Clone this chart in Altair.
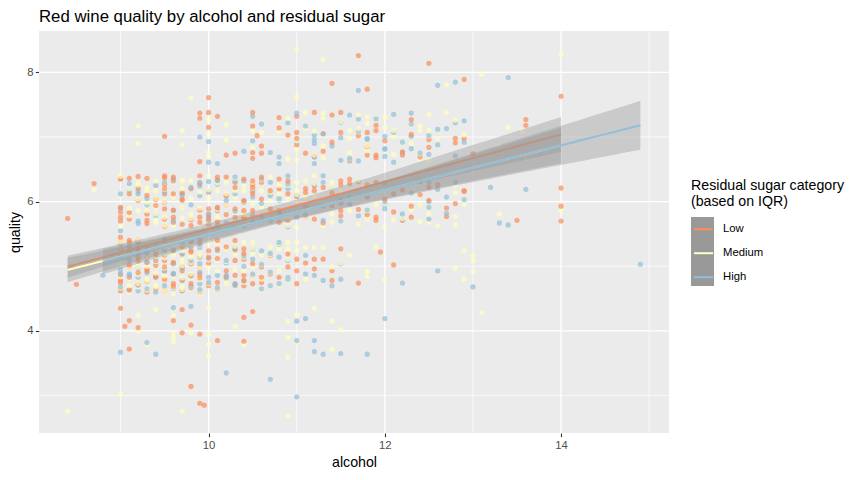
import altair as alt
import numpy as np
import pandas as pd

categories = ["Low", "Medium", "High"]
category_codes = ["L", "M", "H"]
point_colors = ["#FC8D59", "#FFFFBF", "#91BFDB"]

# alcohol value -> jittered quality values (sparse / visible points)
low_points = {
    8.4: [5.74], 8.5: [4.72], 8.7: [6.28],
    9.0: [6.36, 6.35, 5.91, 5.84, 5.76, 5.70, 5.45, 5.38, 5.27, 5.19, 4.87, 4.78, 4.75, 4.62, 4.35],
    9.05: [4.07],
    9.1: [6.36, 6.12, 5.73, 5.40, 5.24, 4.99, 4.16, 3.72],
    9.2: [6.39, 6.02, 5.37, 5.27, 5.14, 4.05, 4.72],
    9.3: [6.36, 5.81, 5.71, 5.06, 4.93, 6.10],
    9.4: [6.04, 5.24, 5.09, 4.83, 5.94],
    9.5: [7.01, 6.40, 6.27, 6.20, 6.12, 5.89, 5.73, 5.40, 5.09, 4.93, 4.78, 5.99, 5.62],
    9.6: [6.38, 6.32, 6.12, 5.76, 5.68, 5.04, 4.73, 4.16],
    9.7: [6.04, 6.02, 5.65, 4.93, 4.33, 3.97, 5.30],
    9.8: [6.20, 5.63, 5.24, 5.04, 4.73, 4.09, 3.14],
    9.9: [7.37, 7.29, 6.62, 6.40, 5.87, 5.76, 5.68, 5.42, 4.88, 3.95, 2.88],
    9.95: [2.85],
    10.0: [7.61, 7.38, 7.15, 5.89, 5.76, 5.71, 5.65, 5.24, 5.14, 4.73],
    10.1: [7.32, 6.38, 5.91, 5.86, 5.40, 5.27, 4.75, 3.85],
    10.2: [6.72, 6.38, 4.93, 5.80],
    10.3: [6.75, 5.89, 5.76, 5.40, 5.27, 4.86, 6.30],
    10.4: [5.99, 5.86, 5.76, 5.27, 5.11, 4.86, 4.70, 4.21, 3.84, 6.35],
    10.5: [7.38, 7.17, 6.76, 6.67, 6.32, 6.27, 6.22, 6.17, 6.12, 5.86, 5.76, 5.04, 4.86, 4.73, 4.30],
    10.55: [7.02],
    10.6: [6.86, 6.75, 6.38, 6.30, 6.04, 4.99, 4.83, 4.75],
    10.7: [6.17, 5.89, 5.17, 4.88],
    10.8: [7.30, 7.14, 6.35, 6.20, 5.86, 5.68, 4.83],
    10.9: [7.03, 6.32, 6.12, 5.71, 5.19, 4.99],
    11.0: [7.32, 7.07, 6.98, 5.11, 4.93, 4.73, 6.10],
    11.1: [6.75, 6.14, 5.76, 5.05],
    11.2: [7.38, 6.17, 5.73, 5.11, 4.96],
    11.3: [6.78, 6.22, 5.11],
    11.4: [7.83, 7.34, 5.94, 4.93, 4.78],
    11.5: [7.38, 7.07, 6.32, 5.86, 5.78, 5.27],
    11.6: [6.28],
    11.7: [8.26, 6.31, 4.74],
    11.8: [7.74, 7.07, 6.72, 6.26, 5.80],
    11.9: [7.10, 6.72, 6.68, 6.30, 5.76],
    11.95: [5.22],
    12.0: [6.04], 12.1: [5.02], 12.2: [6.72, 5.71], 12.3: [7.27, 5.76], 12.4: [6.11],
    12.5: [8.14, 6.96, 6.84], 12.6: [6.26], 12.7: [5.90, 5.77], 12.8: [6.98, 6.91, 5.97],
    12.9: [7.89, 6.98, 6.17, 6.16], 13.0: [6.74], 13.5: [5.71], 13.6: [7.27, 7.18],
    14.0: [7.63, 6.21, 5.93, 5.70],
}

# points hidden in the dense, overlapping part of the cloud (estimated)
low_dense = {
    9.1: [4.64, 4.83, 5.02, 5.21, 5.37, 5.83], 9.2: [4.71, 4.90, 5.08, 5.27, 5.41, 6.21],
    9.3: [4.60, 4.77, 4.96, 5.14, 5.33, 5.66], 9.4: [4.66, 4.85, 5.01, 5.18, 5.39, 6.04],
    9.5: [4.62, 4.80, 4.99, 5.17, 5.35, 6.37], 9.6: [4.69, 4.88, 5.06, 5.24, 5.40, 5.87],
    9.7: [4.63, 4.79, 5.00, 5.19, 5.36, 6.14], 9.8: [4.67, 4.86, 5.04, 5.22, 5.38, 5.72],
    9.9: [4.61, 4.82, 4.98, 5.16, 5.34, 6.28],
    10.0: [4.70, 5.05, 5.80, 6.15], 10.1: [4.65, 5.12, 5.69, 6.33], 10.2: [4.84, 5.30, 5.95, 6.10],
    10.3: [4.72, 5.09, 5.62, 6.22], 10.4: [4.78, 5.20, 5.74, 6.02],
    11.0: [6.08, 6.88], 11.1: [5.92, 6.20], 11.2: [6.24, 6.71], 11.3: [5.67, 7.05],
    11.4: [6.13, 6.92], 11.5: [5.98, 6.26], 11.6: [6.35, 6.65], 11.7: [5.88, 7.02],
    11.8: [6.07, 6.85], 11.9: [5.71, 7.18], 12.0: [6.29, 6.94], 12.1: [5.84, 6.12],
    12.2: [6.18, 6.77], 12.3: [5.93, 7.04], 12.4: [6.31, 6.69], 12.5: [6.02, 6.22],
}

medium_points = {
    8.4: [2.76], 8.7: [6.18],
    9.0: [6.39, 5.62, 5.30, 3.02],
    9.1: [6.20, 5.17, 4.70, 4.60, 5.90],
    9.2: [7.17, 6.90, 6.04, 5.86, 4.99, 4.73, 4.24, 4.00, 6.30],
    9.3: [6.22, 6.17, 5.94, 5.86, 5.37, 5.19, 4.78, 4.65, 3.79],
    9.4: [6.32, 6.17, 5.91, 5.81, 5.71, 5.40, 4.99, 4.68, 4.33, 5.15, 6.05],
    9.5: [6.30, 6.00, 5.76, 5.63, 5.19, 4.62, 5.30, 4.85],
    9.6: [6.07, 5.63, 5.35, 5.17, 4.57, 4.24, 3.97, 3.90, 3.83, 6.30],
    9.7: [7.10, 6.88, 6.32, 6.20, 5.91, 5.37, 5.24, 5.09, 4.68, 2.76, 5.75],
    9.8: [7.60, 6.32, 5.81, 5.14, 4.83, 3.97, 6.05, 5.35],
    9.9: [6.15, 5.60, 5.19, 4.62, 5.90],
    10.0: [7.27, 7.05, 6.76, 6.70, 6.40, 5.37, 4.99, 4.35, 3.95, 3.79, 3.62, 6.05],
    10.1: [6.17, 5.76, 5.09, 4.93, 5.35],
    10.2: [7.19, 6.95, 6.30, 5.27, 4.73, 5.95],
    10.3: [6.17, 6.07, 5.65, 5.19, 4.07, 4.95],
    10.4: [6.25, 6.17, 5.37, 4.93, 3.79, 5.80],
    10.5: [7.09, 6.84, 5.96, 5.37, 5.19, 4.99, 6.30],
    10.6: [7.07, 6.17, 5.91, 5.17, 4.80],
    10.7: [6.38, 6.02, 5.30, 4.70],
    10.8: [7.09, 6.25, 6.12, 5.27, 4.93],
    10.9: [7.29, 6.66, 6.27, 6.04, 5.76, 5.37, 5.27, 4.83, 4.15, 3.90, 3.59, 2.68],
    11.0: [8.36, 7.62, 6.81, 6.64, 6.30, 6.17, 5.60, 5.37, 5.24, 4.25, 3.82],
    11.1: [7.38, 7.14, 6.32, 6.07, 5.29, 4.80],
    11.2: [7.09, 6.40, 6.07, 5.29, 4.35],
    11.3: [8.20, 7.37, 7.29, 6.86, 6.68, 5.99, 5.63, 5.29],
    11.4: [6.30, 6.12, 5.81, 5.68, 4.99, 4.15, 3.72],
    11.5: [6.14, 4.02, 5.05],
    11.6: [7.10, 6.98, 6.76, 5.86, 5.17],
    11.7: [7.34, 7.13, 5.65],
    11.8: [7.31, 7.21, 6.86, 6.79, 5.73, 4.92, 4.84],
    11.9: [5.95, 5.30], 12.0: [7.31, 7.15, 5.61, 4.79], 12.1: [7.10, 7.01, 6.73, 5.72],
    12.3: [6.90, 5.88], 12.4: [7.17, 7.10, 6.66, 5.95, 5.69], 12.5: [7.35, 7.10, 6.64, 5.81, 5.68],
    12.6: [6.98, 5.63], 12.7: [7.81, 7.38], 12.8: [7.26, 6.26, 6.14, 5.77, 5.64, 4.97],
    12.9: [7.03, 6.02, 5.96, 5.24, 4.80], 13.0: [5.17, 5.09, 4.92], 13.1: [7.97, 4.28],
    13.3: [6.86, 5.81], 13.4: [7.15], 13.56: [7.09], 13.6: [6.67], 14.0: [8.29, 5.87],
}

medium_dense = {
    9.0: [4.66, 4.84, 5.03, 5.20, 5.38, 6.10], 9.1: [4.62, 4.81, 4.99, 5.23, 5.36, 5.78],
    9.2: [4.68, 4.87, 5.06, 5.25, 5.41, 6.26], 9.3: [4.63, 4.80, 5.00, 5.15, 5.32, 5.99],
    9.4: [4.70, 4.89, 5.07, 5.26, 5.39, 5.68], 9.5: [4.61, 4.78, 4.97, 5.13, 5.35, 6.19],
    9.6: [4.67, 4.85, 5.04, 5.22, 5.40, 5.85], 9.7: [4.64, 4.82, 5.01, 5.18, 5.34, 6.33],
    9.8: [4.69, 4.88, 5.05, 5.21, 5.37, 5.74], 9.9: [4.60, 4.79, 4.98, 5.16, 5.33, 6.08],
    10.0: [4.73, 5.10, 5.70, 6.18], 10.1: [4.66, 5.22, 5.88, 6.29], 10.2: [4.81, 5.07, 5.64, 6.12],
    10.3: [4.69, 5.31, 5.83, 6.36], 10.4: [4.75, 5.14, 5.66, 6.00], 10.5: [4.86, 5.28, 5.76, 6.21],
    10.6: [4.64, 5.02, 5.95, 6.34], 10.7: [4.90, 5.18, 5.69, 6.14], 10.8: [4.71, 5.35, 5.81, 6.03],
    10.9: [4.79, 5.11, 5.63, 6.25],
    11.0: [6.11, 6.94], 11.1: [5.76, 7.16], 11.2: [6.28, 6.72], 11.3: [5.91, 7.03],
    11.4: [6.22, 6.87], 11.5: [5.69, 7.24], 11.6: [6.04, 6.66], 11.7: [6.33, 7.08],
    11.8: [5.86, 6.95], 11.9: [6.17, 7.27], 12.0: [5.97, 6.80], 12.1: [6.26, 7.06],
    12.2: [5.74, 6.91], 12.3: [6.12, 7.19], 12.4: [6.37, 6.74], 12.5: [5.90, 7.01],
}

high_points = {
    8.8: [4.86],
    9.0: [6.12, 4.89, 3.67, 5.55], 9.1: [6.28, 4.88], 9.2: [6.16, 6.12, 4.83, 4.62, 5.70],
    9.3: [3.82, 5.95, 5.20], 9.4: [3.64, 6.25, 5.05], 9.5: [6.15, 5.25],
    9.6: [5.86, 4.88, 4.36, 6.35], 9.7: [4.78, 6.10], 9.8: [5.40, 4.38, 6.22],
    9.9: [7.00, 6.30, 6.09, 5.29, 5.04, 4.73], 10.0: [6.93, 6.61, 6.31, 5.81, 4.83],
    10.1: [6.59, 6.27, 5.63, 4.86], 10.2: [6.02, 5.09, 4.86, 3.35], 10.3: [6.32, 6.12, 4.73, 5.25],
    10.4: [6.78, 6.32, 5.65, 5.00], 10.5: [7.32, 6.94, 6.07, 5.68, 5.11], 10.6: [7.20, 5.78, 5.24],
    10.7: [6.76, 6.30, 6.09, 4.70, 3.25], 10.8: [6.69, 6.59, 6.02, 5.37, 5.14],
    10.9: [7.22, 6.40, 6.20, 4.83], 11.0: [7.37, 5.76, 4.15, 3.85, 2.98], 11.1: [5.17, 4.88, 4.19],
    11.2: [7.03, 6.96, 6.90, 6.69, 6.59, 4.86, 3.85, 3.68], 11.3: [6.40, 6.30, 5.71, 4.78, 3.64],
    11.4: [6.87, 4.70], 11.5: [6.99, 6.64, 6.02, 5.04, 4.80, 3.65], 11.6: [7.34, 6.63, 5.96],
    11.7: [7.72, 7.28, 6.63, 5.78], 11.8: [6.98, 3.64], 12.0: [7.01, 6.81, 6.70, 6.00, 5.89, 4.19],
    12.1: [7.35, 6.61], 12.2: [6.76, 5.81, 4.74], 12.3: [7.37, 7.01, 6.82], 12.5: [6.73, 6.30, 6.00, 5.73],
    12.6: [7.80, 7.12, 4.93], 12.7: [6.07], 12.8: [7.85, 7.22], 12.9: [6.92], 13.0: [4.68],
    13.2: [6.22], 13.3: [5.67], 13.4: [7.92, 5.64], 13.6: [6.19], 14.9: [5.03],
}

high_dense = {
    9.0: [4.68, 4.95, 5.16, 5.34, 5.90], 9.1: [4.63, 4.86, 5.10, 5.31, 6.18],
    9.2: [4.71, 4.98, 5.21, 5.39, 5.66], 9.3: [4.65, 4.90, 5.07, 5.28, 6.05],
    9.4: [4.60, 4.84, 5.13, 5.36, 5.79], 9.5: [4.70, 4.93, 5.18, 5.41, 6.30],
    9.6: [4.66, 4.89, 5.04, 5.25, 5.71], 9.7: [4.62, 4.97, 5.19, 5.38, 6.12],
    9.8: [4.69, 4.85, 5.09, 5.30, 5.95], 9.9: [4.64, 4.91, 5.14, 5.35, 6.24],
    10.0: [4.75, 5.12, 5.72, 6.16], 10.1: [4.67, 5.24, 5.90, 6.33], 10.2: [4.82, 5.05, 5.67, 6.09],
    10.3: [4.70, 5.30, 5.85, 6.38], 10.4: [4.77, 5.16, 5.63, 6.01], 10.5: [4.88, 5.27, 5.78, 6.20],
    10.6: [4.65, 5.03, 5.97, 6.35], 10.7: [4.91, 5.20, 5.70, 6.13], 10.8: [4.73, 5.34, 5.83, 6.05],
    10.9: [4.80, 5.09, 5.61, 6.27],
    11.0: [6.10, 6.93], 11.1: [5.79, 7.17], 11.2: [6.27, 6.70], 11.3: [5.93, 7.05],
    11.4: [6.21, 6.86], 11.5: [5.70, 7.23], 11.6: [6.06, 6.67], 11.7: [6.32, 7.09],
    11.8: [5.87, 6.96], 11.9: [6.16, 7.28], 12.0: [5.96, 6.82], 12.1: [6.25, 7.07],
    12.2: [5.73, 6.92], 12.3: [6.13, 7.20], 12.4: [6.36, 6.75], 12.5: [5.91, 7.02],
    12.6: [6.19, 6.88], 12.7: [5.82, 7.13], 12.8: [6.30, 6.71], 12.9: [6.03, 7.25],
}

x_major = [10, 12, 14]
x_minor = [9, 11, 13, 15]
y_major = [4, 6, 8]
y_minor = [3, 5, 7]

# ---------------------------------------------------------------- tables
rows = []
groups = [(low_points, low_dense), (medium_points, medium_dense), (high_points, high_dense)]
for cat, dicts in zip(categories, groups):
    for pts in dicts:
        for a, qs in pts.items():
            for q in qs:
                rows.append((a, q, cat))
points = pd.DataFrame(rows, columns=["alcohol", "quality", "cat"])
points = points.sort_values(["quality", "alcohol"]).reset_index(drop=True)

fits = {}
for cat, code in zip(categories, category_codes):
    d = points[points["cat"] == cat]
    x = d["alcohol"].to_numpy()
    y = d["quality"].to_numpy()
    n = len(x)
    slope, icpt = np.polyfit(x, y, 1)
    s = np.sqrt(np.sum((y - (icpt + slope * x)) ** 2) / (n - 2))
    xm = x.mean()
    sxx = np.sum((x - xm) ** 2)
    z = 1.959964
    t = z + (z ** 3 + z) / (4 * (n - 2))
    xs = np.linspace(x.min(), x.max(), 80)
    yh = icpt + slope * xs
    se = s * np.sqrt(1 / n + (xs - xm) ** 2 / sxx)
    fits[cat] = pd.DataFrame({"alcohol": xs, "fit": yh, "lo": yh - t * se,
                              "hi": yh + t * se, "code": code, "cat_s": cat})

FONT = "Liberation Sans"
xscale = alt.Scale(domain=[8.075, 15.225], nice=False, zero=False)
yscale = alt.Scale(domain=[2.42, 8.64], nice=False, zero=False)
xaxis = alt.Axis(values=x_major, title="alcohol", grid=False, domain=False,
                 tickColor="#333333", tickSize=3.7, tickWidth=1.1,
                 labelColor="#4D4D4D", labelFontSize=11.3, labelPadding=3,
                 titleFontSize=14.2, titleFontWeight="normal", titleColor="#000000",
                 titlePadding=4, labelFont=FONT, titleFont=FONT)
yaxis = alt.Axis(values=y_major, title="quality", grid=False, domain=False,
                 tickColor="#333333", tickSize=3.7, tickWidth=1.1,
                 labelColor="#4D4D4D", labelFontSize=11.3, labelPadding=2.2,
                 titleFontSize=14.2, titleFontWeight="normal", titleColor="#000000",
                 titlePadding=4, labelFont=FONT, titleFont=FONT)


def X(field):
    return alt.X(field, type="quantitative", scale=xscale, axis=xaxis)


def Y(field):
    return alt.Y(field, type="quantitative", scale=yscale, axis=yaxis)


common_legend = dict(symbolSize=529, rowPadding=0, labelOffset=7,
                     titleFontSize=14.2, titleFontWeight="normal", titleLineHeight=15.5,
                     labelFontSize=11.3, titleFont=FONT, labelFont=FONT,
                     titleColor="#000000", labelColor="#000000", symbolOpacity=1)

# grey key backgrounds: a legend of its own, without visible text
fill_legend = alt.Legend(title=" ", symbolType="square", symbolStrokeWidth=0, zindex=1,
                         orient="right", offset=22, titlePadding=171.8,
                         labelExpr="''", titleOpacity=0, **common_legend)
# coloured key lines with the title and labels, drawn over the grey keys
# (two bare move-to corners give each row the height of a grey key)
stroke_legend = alt.Legend(title=["Residual sugar category", "(based on IQR)"],
                           symbolType="M-0.652,-0.652M0.652,0.652M-0.83,0H0.83",
                           symbolStrokeWidth=2, zindex=2,
                           orient="none", legendX=652, legendY=148, titlePadding=8,
                           **common_legend)

fill_scale = alt.Scale(domain=category_codes, range=["#999999"] * 3)
stroke_scale = alt.Scale(domain=categories, range=point_colors)
# points: same colours, domain listed in another order so its (hidden) legend stays apart
color_scale = alt.Scale(domain=["High", "Low", "Medium"],
                        range=[point_colors[2], point_colors[0], point_colors[1]])

grid_minor_x = alt.Chart(pd.DataFrame({"v": x_minor})).mark_rule(
    color="white", strokeWidth=0.7).encode(x=X("v"))
grid_major_x = alt.Chart(pd.DataFrame({"v": x_major})).mark_rule(
    color="white", strokeWidth=1.3).encode(x=X("v"))
grid_minor_y = alt.Chart(pd.DataFrame({"v": y_minor})).mark_rule(
    color="white", strokeWidth=0.7).encode(y=Y("v"))
grid_major_y = alt.Chart(pd.DataFrame({"v": y_major})).mark_rule(
    color="white", strokeWidth=1.3).encode(y=Y("v"))

dots = alt.Chart(points).mark_circle(size=27, opacity=0.7).encode(
    x=X("alcohol"), y=Y("quality"),
    color=alt.Color("cat:N", scale=color_scale, legend=None))

layers = [grid_minor_x, grid_minor_y, grid_major_x, grid_major_y, dots]
for cat in categories:
    f = fits[cat]
    band = alt.Chart(f).mark_area(opacity=0.4).encode(
        x=X("alcohol"), y=Y("lo"), y2="hi",
        fill=alt.Fill("code:N", scale=fill_scale, legend=fill_legend))
    line = alt.Chart(f).mark_line(strokeWidth=2).encode(
        x=X("alcohol"), y=Y("fit"),
        stroke=alt.Stroke("cat_s:N", scale=stroke_scale, legend=stroke_legend))
    layers += [band, line]

chart = alt.layer(*layers).properties(
    width=630, height=402,
    title=alt.TitleParams("Red wine quality by alcohol and residual sugar",
                          anchor="start", frame="group", fontSize=16.8,
                          fontWeight="normal", font=FONT, color="#000000", offset=5),
    autosize=alt.AutoSizeParams(type="none"),
    padding={"left": 31, "top": 23, "right": 187, "bottom": 39},
).configure(background="white").configure_view(fill="#EBEBEB", stroke=None)

chart.save("out.html", embed_options={"renderer": "svg", "actions": False})
